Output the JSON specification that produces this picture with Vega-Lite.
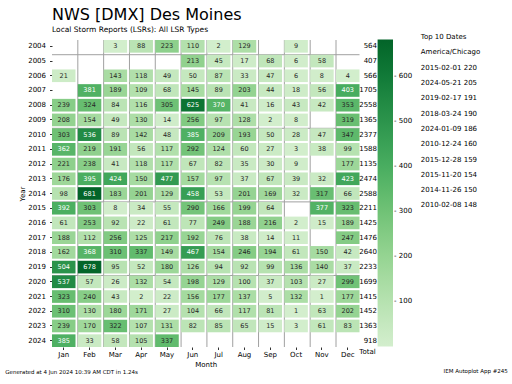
{
  "$schema": "https://vega.github.io/schema/vega-lite/v6.json",
  "padding": {"left": 5, "top": 6, "right": 0, "bottom": 0},
  "background": "white",
  "config": {
    "font": "DejaVu Sans",
    "view": {"stroke": null},
    "axis": {"labelFontSize": 7, "titleFontSize": 7, "titleFontWeight": "normal", "labelColor": "#000", "titleColor": "#000", "tickColor": "#333", "domain": false, "grid": false, "tickSize": 2.5},
    "axisX": {"labelAngle": 0, "labelPadding": 1, "titlePadding": 3},
    "axisY": {"labelPadding": 4, "titlePadding": 2},
    "title": {"fontWeight": "normal", "color": "#000", "subtitleColor": "#000"}
  },
  "title": {"text": "NWS [DMX] Des Moines", "subtitle": "Local Storm Reports (LSRs): All LSR Types", "anchor": "start", "frame": "group", "fontSize": 16, "subtitleFontSize": 7.5, "subtitlePadding": 3, "offset": 0},
  "datasets": {
    "lsr": [
      {"Year":2004,"Month":"Mar","LSRs":3},{"Year":2004,"Month":"Apr","LSRs":88},{"Year":2004,"Month":"May","LSRs":223},{"Year":2004,"Month":"Jun","LSRs":110},{"Year":2004,"Month":"Jul","LSRs":2},{"Year":2004,"Month":"Aug","LSRs":129},{"Year":2004,"Month":"Oct","LSRs":9},
      {"Year":2005,"Month":"Jun","LSRs":213},{"Year":2005,"Month":"Jul","LSRs":45},{"Year":2005,"Month":"Aug","LSRs":17},{"Year":2005,"Month":"Sep","LSRs":68},{"Year":2005,"Month":"Oct","LSRs":6},{"Year":2005,"Month":"Nov","LSRs":58},
      {"Year":2006,"Month":"Jan","LSRs":21},{"Year":2006,"Month":"Mar","LSRs":143},{"Year":2006,"Month":"Apr","LSRs":118},{"Year":2006,"Month":"May","LSRs":49},{"Year":2006,"Month":"Jun","LSRs":50},{"Year":2006,"Month":"Jul","LSRs":87},{"Year":2006,"Month":"Aug","LSRs":33},{"Year":2006,"Month":"Sep","LSRs":47},{"Year":2006,"Month":"Oct","LSRs":6},{"Year":2006,"Month":"Nov","LSRs":8},{"Year":2006,"Month":"Dec","LSRs":4},
      {"Year":2007,"Month":"Feb","LSRs":381},{"Year":2007,"Month":"Mar","LSRs":189},{"Year":2007,"Month":"Apr","LSRs":109},{"Year":2007,"Month":"May","LSRs":68},{"Year":2007,"Month":"Jun","LSRs":145},{"Year":2007,"Month":"Jul","LSRs":89},{"Year":2007,"Month":"Aug","LSRs":203},{"Year":2007,"Month":"Sep","LSRs":44},{"Year":2007,"Month":"Oct","LSRs":18},{"Year":2007,"Month":"Nov","LSRs":56},{"Year":2007,"Month":"Dec","LSRs":403},
      {"Year":2008,"Month":"Jan","LSRs":239},{"Year":2008,"Month":"Feb","LSRs":324},{"Year":2008,"Month":"Mar","LSRs":84},{"Year":2008,"Month":"Apr","LSRs":116},{"Year":2008,"Month":"May","LSRs":305},{"Year":2008,"Month":"Jun","LSRs":625},{"Year":2008,"Month":"Jul","LSRs":370},{"Year":2008,"Month":"Aug","LSRs":41},{"Year":2008,"Month":"Sep","LSRs":16},{"Year":2008,"Month":"Oct","LSRs":43},{"Year":2008,"Month":"Nov","LSRs":42},{"Year":2008,"Month":"Dec","LSRs":353},
      {"Year":2009,"Month":"Jan","LSRs":208},{"Year":2009,"Month":"Feb","LSRs":154},{"Year":2009,"Month":"Mar","LSRs":49},{"Year":2009,"Month":"Apr","LSRs":130},{"Year":2009,"Month":"May","LSRs":14},{"Year":2009,"Month":"Jun","LSRs":256},{"Year":2009,"Month":"Jul","LSRs":97},{"Year":2009,"Month":"Aug","LSRs":128},{"Year":2009,"Month":"Sep","LSRs":2},{"Year":2009,"Month":"Oct","LSRs":8},{"Year":2009,"Month":"Dec","LSRs":319},
      {"Year":2010,"Month":"Jan","LSRs":303},{"Year":2010,"Month":"Feb","LSRs":536},{"Year":2010,"Month":"Mar","LSRs":89},{"Year":2010,"Month":"Apr","LSRs":142},{"Year":2010,"Month":"May","LSRs":48},{"Year":2010,"Month":"Jun","LSRs":385},{"Year":2010,"Month":"Jul","LSRs":209},{"Year":2010,"Month":"Aug","LSRs":193},{"Year":2010,"Month":"Sep","LSRs":50},{"Year":2010,"Month":"Oct","LSRs":28},{"Year":2010,"Month":"Nov","LSRs":47},{"Year":2010,"Month":"Dec","LSRs":347},
      {"Year":2011,"Month":"Jan","LSRs":362},{"Year":2011,"Month":"Feb","LSRs":219},{"Year":2011,"Month":"Mar","LSRs":191},{"Year":2011,"Month":"Apr","LSRs":56},{"Year":2011,"Month":"May","LSRs":117},{"Year":2011,"Month":"Jun","LSRs":292},{"Year":2011,"Month":"Jul","LSRs":124},{"Year":2011,"Month":"Aug","LSRs":60},{"Year":2011,"Month":"Sep","LSRs":27},{"Year":2011,"Month":"Oct","LSRs":3},{"Year":2011,"Month":"Nov","LSRs":38},{"Year":2011,"Month":"Dec","LSRs":99},
      {"Year":2012,"Month":"Jan","LSRs":221},{"Year":2012,"Month":"Feb","LSRs":238},{"Year":2012,"Month":"Mar","LSRs":41},{"Year":2012,"Month":"Apr","LSRs":118},{"Year":2012,"Month":"May","LSRs":117},{"Year":2012,"Month":"Jun","LSRs":67},{"Year":2012,"Month":"Jul","LSRs":82},{"Year":2012,"Month":"Aug","LSRs":35},{"Year":2012,"Month":"Sep","LSRs":30},{"Year":2012,"Month":"Oct","LSRs":9},{"Year":2012,"Month":"Dec","LSRs":177},
      {"Year":2013,"Month":"Jan","LSRs":176},{"Year":2013,"Month":"Feb","LSRs":395},{"Year":2013,"Month":"Mar","LSRs":424},{"Year":2013,"Month":"Apr","LSRs":150},{"Year":2013,"Month":"May","LSRs":477},{"Year":2013,"Month":"Jun","LSRs":157},{"Year":2013,"Month":"Jul","LSRs":97},{"Year":2013,"Month":"Aug","LSRs":37},{"Year":2013,"Month":"Sep","LSRs":67},{"Year":2013,"Month":"Oct","LSRs":39},{"Year":2013,"Month":"Nov","LSRs":32},{"Year":2013,"Month":"Dec","LSRs":423},
      {"Year":2014,"Month":"Jan","LSRs":98},{"Year":2014,"Month":"Feb","LSRs":681},{"Year":2014,"Month":"Mar","LSRs":183},{"Year":2014,"Month":"Apr","LSRs":201},{"Year":2014,"Month":"May","LSRs":129},{"Year":2014,"Month":"Jun","LSRs":458},{"Year":2014,"Month":"Jul","LSRs":53},{"Year":2014,"Month":"Aug","LSRs":201},{"Year":2014,"Month":"Sep","LSRs":169},{"Year":2014,"Month":"Oct","LSRs":32},{"Year":2014,"Month":"Nov","LSRs":317},{"Year":2014,"Month":"Dec","LSRs":66},
      {"Year":2015,"Month":"Jan","LSRs":392},{"Year":2015,"Month":"Feb","LSRs":303},{"Year":2015,"Month":"Mar","LSRs":8},{"Year":2015,"Month":"Apr","LSRs":34},{"Year":2015,"Month":"May","LSRs":55},{"Year":2015,"Month":"Jun","LSRs":290},{"Year":2015,"Month":"Jul","LSRs":166},{"Year":2015,"Month":"Aug","LSRs":199},{"Year":2015,"Month":"Sep","LSRs":64},{"Year":2015,"Month":"Nov","LSRs":377},{"Year":2015,"Month":"Dec","LSRs":323},
      {"Year":2016,"Month":"Jan","LSRs":61},{"Year":2016,"Month":"Feb","LSRs":253},{"Year":2016,"Month":"Mar","LSRs":92},{"Year":2016,"Month":"Apr","LSRs":22},{"Year":2016,"Month":"May","LSRs":61},{"Year":2016,"Month":"Jun","LSRs":77},{"Year":2016,"Month":"Jul","LSRs":249},{"Year":2016,"Month":"Aug","LSRs":188},{"Year":2016,"Month":"Sep","LSRs":216},{"Year":2016,"Month":"Oct","LSRs":2},{"Year":2016,"Month":"Nov","LSRs":15},{"Year":2016,"Month":"Dec","LSRs":189},
      {"Year":2017,"Month":"Jan","LSRs":188},{"Year":2017,"Month":"Feb","LSRs":112},{"Year":2017,"Month":"Mar","LSRs":256},{"Year":2017,"Month":"Apr","LSRs":125},{"Year":2017,"Month":"May","LSRs":217},{"Year":2017,"Month":"Jun","LSRs":192},{"Year":2017,"Month":"Jul","LSRs":76},{"Year":2017,"Month":"Aug","LSRs":38},{"Year":2017,"Month":"Sep","LSRs":14},{"Year":2017,"Month":"Oct","LSRs":11},{"Year":2017,"Month":"Dec","LSRs":247},
      {"Year":2018,"Month":"Jan","LSRs":162},{"Year":2018,"Month":"Feb","LSRs":368},{"Year":2018,"Month":"Mar","LSRs":310},{"Year":2018,"Month":"Apr","LSRs":337},{"Year":2018,"Month":"May","LSRs":149},{"Year":2018,"Month":"Jun","LSRs":467},{"Year":2018,"Month":"Jul","LSRs":154},{"Year":2018,"Month":"Aug","LSRs":246},{"Year":2018,"Month":"Sep","LSRs":194},{"Year":2018,"Month":"Oct","LSRs":61},{"Year":2018,"Month":"Nov","LSRs":150},{"Year":2018,"Month":"Dec","LSRs":42},
      {"Year":2019,"Month":"Jan","LSRs":504},{"Year":2019,"Month":"Feb","LSRs":678},{"Year":2019,"Month":"Mar","LSRs":95},{"Year":2019,"Month":"Apr","LSRs":52},{"Year":2019,"Month":"May","LSRs":180},{"Year":2019,"Month":"Jun","LSRs":126},{"Year":2019,"Month":"Jul","LSRs":94},{"Year":2019,"Month":"Aug","LSRs":92},{"Year":2019,"Month":"Sep","LSRs":99},{"Year":2019,"Month":"Oct","LSRs":136},{"Year":2019,"Month":"Nov","LSRs":140},{"Year":2019,"Month":"Dec","LSRs":37},
      {"Year":2020,"Month":"Jan","LSRs":537},{"Year":2020,"Month":"Feb","LSRs":57},{"Year":2020,"Month":"Mar","LSRs":26},{"Year":2020,"Month":"Apr","LSRs":132},{"Year":2020,"Month":"May","LSRs":54},{"Year":2020,"Month":"Jun","LSRs":198},{"Year":2020,"Month":"Jul","LSRs":129},{"Year":2020,"Month":"Aug","LSRs":100},{"Year":2020,"Month":"Sep","LSRs":37},{"Year":2020,"Month":"Oct","LSRs":103},{"Year":2020,"Month":"Nov","LSRs":27},{"Year":2020,"Month":"Dec","LSRs":299},
      {"Year":2021,"Month":"Jan","LSRs":323},{"Year":2021,"Month":"Feb","LSRs":240},{"Year":2021,"Month":"Mar","LSRs":43},{"Year":2021,"Month":"Apr","LSRs":2},{"Year":2021,"Month":"May","LSRs":22},{"Year":2021,"Month":"Jun","LSRs":156},{"Year":2021,"Month":"Jul","LSRs":177},{"Year":2021,"Month":"Aug","LSRs":137},{"Year":2021,"Month":"Sep","LSRs":5},{"Year":2021,"Month":"Oct","LSRs":132},{"Year":2021,"Month":"Nov","LSRs":1},{"Year":2021,"Month":"Dec","LSRs":177},
      {"Year":2022,"Month":"Jan","LSRs":310},{"Year":2022,"Month":"Feb","LSRs":130},{"Year":2022,"Month":"Mar","LSRs":180},{"Year":2022,"Month":"Apr","LSRs":171},{"Year":2022,"Month":"May","LSRs":27},{"Year":2022,"Month":"Jun","LSRs":104},{"Year":2022,"Month":"Jul","LSRs":66},{"Year":2022,"Month":"Aug","LSRs":117},{"Year":2022,"Month":"Sep","LSRs":81},{"Year":2022,"Month":"Oct","LSRs":1},{"Year":2022,"Month":"Nov","LSRs":63},{"Year":2022,"Month":"Dec","LSRs":202},
      {"Year":2023,"Month":"Jan","LSRs":239},{"Year":2023,"Month":"Feb","LSRs":170},{"Year":2023,"Month":"Mar","LSRs":322},{"Year":2023,"Month":"Apr","LSRs":107},{"Year":2023,"Month":"May","LSRs":131},{"Year":2023,"Month":"Jun","LSRs":82},{"Year":2023,"Month":"Jul","LSRs":85},{"Year":2023,"Month":"Aug","LSRs":65},{"Year":2023,"Month":"Sep","LSRs":15},{"Year":2023,"Month":"Oct","LSRs":3},{"Year":2023,"Month":"Nov","LSRs":61},{"Year":2023,"Month":"Dec","LSRs":83},
      {"Year":2024,"Month":"Jan","LSRs":385},{"Year":2024,"Month":"Feb","LSRs":33},{"Year":2024,"Month":"Mar","LSRs":58},{"Year":2024,"Month":"Apr","LSRs":105},{"Year":2024,"Month":"May","LSRs":337}
    ],
    "top": [
      {"line":1,"label":"Top 10 Dates"},
      {"line":2,"label":"America/Chicago"},
      {"line":3,"label":"2015-02-01 220"},
      {"line":4,"label":"2024-05-21 205"},
      {"line":5,"label":"2019-02-17 191"},
      {"line":6,"label":"2018-03-24 190"},
      {"line":7,"label":"2024-01-09 186"},
      {"line":8,"label":"2010-12-24 160"},
      {"line":9,"label":"2015-12-28 159"},
      {"line":10,"label":"2015-11-20 154"},
      {"line":11,"label":"2014-11-26 150"},
      {"line":12,"label":"2010-02-08 148"}
    ]
  },
  "bounds": "flush",
  "spacing": 0,
  "hconcat": [
    {
      "width": 307.5,
      "height": 307,
      "data": {"name": "lsr"},
      "title": {"text": "Generated at 4 Jun 2024 10:39 AM CDT in 1.24s", "orient": "bottom", "anchor": "start", "frame": "group", "dx": -46.7, "fontSize": 5.5, "offset": 2},
      "layer": [
        {
          "transform": [{"aggregate": [{"op": "count", "as": "n"}], "groupby": ["Month"]}, {"filter": "datum.Month !== 'Jan'"}],
          "mark": {"type": "rule", "color": "#a0a0a0", "strokeWidth": 1},
          "encoding": {
            "x": {"field": "Month", "type": "ordinal", "bandPosition": 0, "scale": {"type": "band", "domain": ["Jan","Feb","Mar","Apr","May","Jun","Jul","Aug","Sep","Oct","Nov","Dec"], "paddingInner": 0.09, "paddingOuter": 0}}
          }
        },
        {
          "transform": [{"aggregate": [{"op": "count", "as": "n"}], "groupby": ["Year"]}, {"filter": "indexof([2005, 2010, 2015, 2020], datum.Year) >= 0"}],
          "mark": {"type": "rule", "color": "#a0a0a0", "strokeWidth": 1},
          "encoding": {
            "y": {"field": "Year", "type": "ordinal", "bandPosition": 0, "scale": {"type": "band", "domain": [2004,2005,2006,2007,2008,2009,2010,2011,2012,2013,2014,2015,2016,2017,2018,2019,2020,2021,2022,2023,2024], "paddingInner": 0.14, "paddingOuter": 0}}
          }
        },
        {
          "mark": {"type": "rect"},
          "encoding": {
            "x": {"field": "Month", "type": "ordinal", "scale": {"type": "band", "domain": ["Jan","Feb","Mar","Apr","May","Jun","Jul","Aug","Sep","Oct","Nov","Dec"], "paddingInner": 0.09, "paddingOuter": 0}},
            "y": {"field": "Year", "type": "ordinal", "scale": {"type": "band", "domain": [2004,2005,2006,2007,2008,2009,2010,2011,2012,2013,2014,2015,2016,2017,2018,2019,2020,2021,2022,2023,2024], "paddingInner": 0.14, "paddingOuter": 0}},
            "color": {
              "field": "LSRs", "type": "quantitative",
              "scale": {"scheme": "greens", "domain": [0, 681]},
              "legend": {"orient": "none", "legendX": 325.6, "legendY": -0.5, "direction": "vertical", "gradientLength": 307, "gradientThickness": 15.4, "title": null, "values": [100, 200, 300, 400, 500, 600], "labelFontSize": 7, "labelOffset": 1, "labelColor": "#000", "labelOverlap": false, "labelExpr": "'- ' + datum.label", "gradientStrokeWidth": 0}
            }
          }
        },
        {
          "mark": {"type": "text", "fontSize": 6.5, "baseline": "middle"},
          "encoding": {
            "x": {"field": "Month", "type": "ordinal", "scale": {"type": "band", "domain": ["Jan","Feb","Mar","Apr","May","Jun","Jul","Aug","Sep","Oct","Nov","Dec"], "paddingInner": 0.09, "paddingOuter": 0}},
            "y": {"field": "Year", "type": "ordinal", "scale": {"type": "band", "domain": [2004,2005,2006,2007,2008,2009,2010,2011,2012,2013,2014,2015,2016,2017,2018,2019,2020,2021,2022,2023,2024], "paddingInner": 0.14, "paddingOuter": 0}},
            "text": {"field": "LSRs", "type": "quantitative", "format": "d"},
            "color": {"condition": {"test": "datum.LSRs > 355", "value": "#ffffff"}, "value": "#262626"}
          }
        }
      ]
    },
    {
      "width": 14,
      "height": 307,
      "data": {"name": "lsr"},
      "transform": [{"aggregate": [{"op": "sum", "field": "LSRs", "as": "Total"}], "groupby": ["Year"]}],
      "mark": {"type": "text", "align": "right", "baseline": "middle", "dx": 10, "fontSize": 7, "color": "#000"},
      "encoding": {
        "x": {"datum": "Total", "type": "nominal", "axis": {"title": null, "ticks": false, "labelPadding": 0}},
        "y": {"field": "Year", "type": "ordinal", "scale": {"type": "band", "domain": [2004,2005,2006,2007,2008,2009,2010,2011,2012,2013,2014,2015,2016,2017,2018,2019,2020,2021,2022,2023,2024], "paddingInner": 0.14, "paddingOuter": 0}, "axis": null},
        "text": {"field": "Total", "type": "quantitative", "format": "d"}
      }
    },
    {
      "width": 133.8,
      "height": 307,
      "data": {"name": "top"},
      "title": {"text": "IEM Autoplot App #245", "orient": "bottom", "anchor": "end", "frame": "group", "fontSize": 5.5, "offset": 22},
      "mark": {"type": "text", "align": "left", "baseline": "middle", "dx": 46.8, "fontSize": 7, "color": "#000"},
      "encoding": {
        "x": {"value": 0},
        "y": {"field": "line", "type": "quantitative", "scale": {"domain": [1.183, 21.25], "reverse": true, "nice": false, "zero": false}, "axis": null},
        "text": {"field": "label", "type": "nominal"}
      }
    }
  ]
}
